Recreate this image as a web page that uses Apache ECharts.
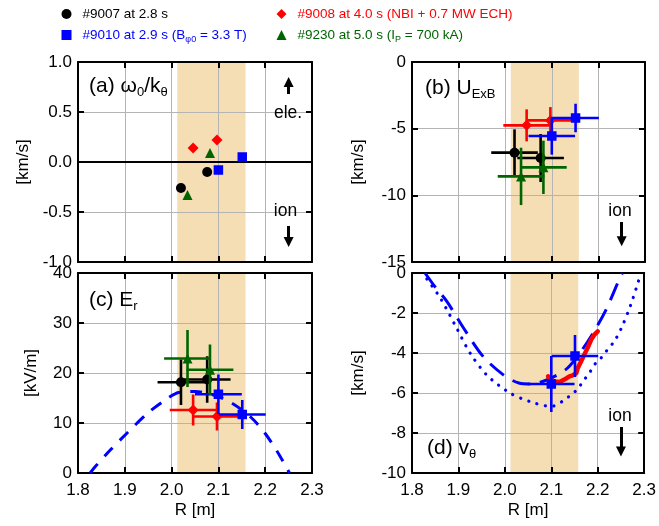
<!DOCTYPE html>
<html><head><meta charset="utf-8">
<script src="https://cdn.jsdelivr.net/npm/echarts@6/dist/echarts.min.js"></script>
<style>html,body{margin:0;padding:0;background:#fff}#c{width:659px;height:526px}</style>
</head><body><div id="c"></div>
<script>
// ---------- DATA ----------
const seriesNames = ['#9007 at 2.8 s', '#9010 at 2.9 s (Bφ0 = 3.3 T)', '#9008 at 4.0 s (NBI + 0.7 MW ECH)', '#9230 at 5.0 s (IP = 700 kA)'];
const rTicks = [1.8, 2.3, 0.1];
const shadeR = [2.012, 2.158];

// measurement radii [m] and radial error
const rBlack = [2.020, 2.076];
const rRed   = [2.046, 2.097];
const rBlue  = [2.100, 2.151];
const rGreen = [2.034, 2.082];
const rErr = 0.05;

// (a) omega0/k_theta [km/s]
const wBlack = [-0.26, -0.10];
const wRed   = [0.14, 0.22];
const wBlue  = [-0.08, 0.05];
const wGreen = [-0.33, 0.09];

// (b) U_ExB [km/s]
const uBlack = [-6.8, -7.2];   const uBlackErr = [1.75, 1.8];
const uRed   = [-4.75, -4.38]; const uRedErr   = [1.2, 1.0];
const uBlue  = [-5.55, -4.2];  const uBlueErr  = [1.4, 1.07];
const uGreen = [-8.58, -7.9];  const uGreenErr = [2.15, 2.0];

// (c) E_r [kV/m]
const eBlack = [18.15, 18.7];  const eBlackErr = [4.55, 4.65];
const eRed   = [12.6, 11.3];   const eRedErr   = [3.1, 2.8];
const eBlue  = [15.75, 11.7];  const eBlueErr  = [3.95, 2.9];
const eGreen = [22.9, 20.65];  const eGreenErr = [5.7, 5.05];
const erCurveR = [1.826, 1.837, 1.869, 1.905, 1.948, 1.991, 2.015, 2.05, 2.09, 2.13, 2.17, 2.20, 2.225, 2.24, 2.252];
const erCurveV = [0, 1.3, 4.6, 8.0, 11.9, 14.9, 16.1, 16.3, 15.6, 13.9, 11.1, 7.9, 4.4, 2.0, 0];

// (d) v_theta [km/s]
const vBlue = [-5.55, -4.15];  const vBlueErr = [1.4, 1.05];
const vDashR = [1.828, 1.85, 1.875, 1.911, 1.953, 1.996, 2.03, 2.06, 2.09, 2.114, 2.135, 2.16, 2.19, 2.218, 2.246, 2.253];
const vDashV = [0, -0.7, -1.42, -2.75, -4.17, -5.08, -5.5, -5.55, -5.35, -5.08, -4.75, -4.05, -3.0, -1.83, -0.33, 0];
const vDotR = [1.832, 1.861, 1.896, 1.925, 1.961, 2.011, 2.053, 2.10, 2.125, 2.143, 2.157, 2.168, 2.182, 2.193, 2.207, 2.218, 2.236, 2.25, 2.271, 2.293];
const vDotV = [-0.3, -1.25, -2.75, -4.0, -5.1, -6.0, -6.42, -6.67, -6.4, -6.08, -5.8, -5.42, -5.0, -4.58, -4.25, -3.92, -3.4, -2.8, -1.6, 0];
const vRedR = [2.093, 2.096, 2.107, 2.118, 2.128, 2.139, 2.146, 2.154, 2.157, 2.164, 2.171, 2.178, 2.186, 2.193, 2.20];
const vRedV = [-5.17, -5.33, -5.42, -5.45, -5.33, -5.17, -5.12, -5.0, -4.75, -4.42, -4.08, -3.75, -3.33, -3.08, -2.92];

// annotation arrows: [panel, R, start, end]
const arrows = [[0, 2.25, 0.68, 0.80], [0, 2.25, -0.64, -0.80], [1, 2.25, -12.0, -13.45], [3, 2.25, -7.7, -8.92]];

// ---------- STYLE ----------
const FONT = 'Liberation Sans';
const C = {black:'#000000', red:'#ff0000', blue:'#0000ff', green:'#006400'};
const SYM = {black:['circle',10], red:['diamond',11], blue:['rect',9.5], green:['triangle',10]};

const grids = [
  {left:78, top:62, width:234, height:200},
  {left:412, top:62, width:233, height:200},
  {left:78, top:273, width:234, height:200},
  {left:412, top:273, width:233, height:200}
];
const yDefs = [
  {min:-1, max:1, interval:0.5, fmt:v=>v.toFixed(1), name:'[km/s]', gap:46},
  {min:-15, max:0, interval:5, fmt:v=>String(v), name:'[km/s]', gap:45},
  {min:0, max:40, interval:10, fmt:v=>String(v), name:'[kV/m]', gap:38},
  {min:-10, max:0, interval:2, fmt:v=>String(v), name:'[km/s]', gap:45}
];

const xAxes = [], yAxes = [];
grids.forEach((g, i) => {
  ['bottom','top'].forEach(pos => {
    const showLab = pos === 'bottom' && i >= 2;
    xAxes.push({type:'value', gridIndex:i, position:pos, min:rTicks[0], max:rTicks[1], interval:rTicks[2], z:1,
      axisLine:{show:true, onZero:false, lineStyle:{color:'#000', width:2}},
      axisTick:{show:true, inside:true, length:6, lineStyle:{color:'#000', width:2}},
      axisLabel:{show:showLab, margin:9, fontFamily:FONT, fontSize:17, color:'#000', formatter:v=>v.toFixed(1)},
      splitLine:{show:pos==='bottom', lineStyle:{color:'#b4b4b4', width:1}},
      name: showLab ? 'R [m]' : '', nameLocation:'middle', nameGap:29,
      nameTextStyle:{fontFamily:FONT, fontSize:17, color:'#000'}
    });
  });
  ['left','right'].forEach(pos => {
    const d = yDefs[i];
    yAxes.push({type:'value', gridIndex:i, position:pos, min:d.min, max:d.max, interval:d.interval, z:1,
      axisLine:{show:true, onZero:false, lineStyle:{color:'#000', width:2}},
      axisTick:{show:true, inside:true, length:6, lineStyle:{color:'#000', width:2}},
      axisLabel:{show:pos==='left', margin:6, fontFamily:FONT, fontSize:17, color:'#000', formatter:d.fmt},
      splitLine:{show:pos==='left', lineStyle:{color:'#b4b4b4', width:1}},
      name: pos==='left' ? d.name : '', nameLocation:'middle', nameGap:d.gap,
      nameTextStyle:{fontFamily:FONT, fontSize:17, color:'#000'}
    });
  });
});

function errSeries(panel, xs, ys, yerr, color, z) {
  return {type:'custom', coordinateSystem:'cartesian2d', xAxisIndex:panel*2, yAxisIndex:panel*2, z:z, silent:true,
    data: xs.map((x, k) => [x, ys[k], rErr, yerr[k]]),
    renderItem: function (params, api) {
      const x = api.value(0), y = api.value(1), dx = api.value(2), dy = api.value(3);
      const a = api.coord([x - dx, y]), b = api.coord([x + dx, y]);
      const c = api.coord([x, y - dy]), d = api.coord([x, y + dy]);
      const st = {stroke: color, lineWidth: 2.6};
      return {type:'group', children:[
        {type:'line', shape:{x1:a[0], y1:a[1], x2:b[0], y2:b[1]}, style:st},
        {type:'line', shape:{x1:c[0], y1:c[1], x2:d[0], y2:d[1]}, style:st}
      ]};
    }
  };
}
function scat(panel, name, xs, ys, key, z) {
  return {type:'scatter', name:name, xAxisIndex:panel*2, yAxisIndex:panel*2, z:z, silent:true,
    symbol:SYM[key][0], symbolSize:SYM[key][1], itemStyle:{color:C[key], opacity:1},
    data: xs.map((x, k) => [x, ys[k]])};
}
function shade(panel) {
  return {type:'line', xAxisIndex:panel*2, yAxisIndex:panel*2, data:[], silent:true,
    markArea:{silent:true, z:0, itemStyle:{color:'#f5deb3'}, data:[[{xAxis:shadeR[0]}, {xAxis:shadeR[1]}]]}};
}
function arrow(a) {
  const panel = a[0];
  return {type:'line', xAxisIndex:panel*2, yAxisIndex:panel*2, data:[], silent:true, z:5,
    markLine:{silent:true, symbol:['none','triangle'], symbolSize:10, animation:false,
      label:{show:false}, lineStyle:{color:'#000', width:3, type:'solid'},
      data:[[{coord:[a[1], a[2]]}, {coord:[a[1], a[3]]}]]}};
}
function curve(panel, xs, ys, color, width, dash, z, smooth) {
  return {type:'line', xAxisIndex:panel*2, yAxisIndex:panel*2, z:z, silent:true, showSymbol:false, symbol:'none',
    smooth:smooth, clip:true,
    lineStyle:{color:color, width:width, type:dash, cap: dash === 'solid' ? 'round' : (Array.isArray(dash) && dash[0] < 1 ? 'round' : 'butt'), join:'round'},
    data: xs.map((x, k) => [x, ys[k]])};
}

const series = [];
[0,1,2,3].forEach(p => series.push(shade(p)));
// zero line in (a)
series.push({type:'line', xAxisIndex:0, yAxisIndex:0, data:[], silent:true, z:2,
  markLine:{silent:true, symbol:['none','none'], label:{show:false}, animation:false,
    lineStyle:{color:'#000', width:2, type:'solid'}, data:[{yAxis:0}]}});

// (a)
series.push(scat(0, seriesNames[0], rBlack, wBlack, 'black', 4));
series.push(scat(0, seriesNames[2], rRed, wRed, 'red', 6));
series.push(scat(0, seriesNames[1], rBlue, wBlue, 'blue', 8));
series.push(scat(0, seriesNames[3], rGreen, wGreen, 'green', 10));
// (b)
series.push(errSeries(1, rBlack, uBlack, uBlackErr, C.black, 3));
series.push(scat(1, 'b0', rBlack, uBlack, 'black', 4));
series.push(errSeries(1, rRed, uRed, uRedErr, C.red, 5));
series.push(scat(1, 'b2', rRed, uRed, 'red', 6));
series.push(errSeries(1, rBlue, uBlue, uBlueErr, C.blue, 7));
series.push(scat(1, 'b1', rBlue, uBlue, 'blue', 8));
series.push(errSeries(1, rGreen, uGreen, uGreenErr, C.green, 9));
series.push(scat(1, 'b3', rGreen, uGreen, 'green', 10));
// (c)
series.push(curve(2, erCurveR, erCurveV, C.blue, 3, [12, 10], 2, 0.3));
series.push(errSeries(2, rBlack, eBlack, eBlackErr, C.black, 3));
series.push(scat(2, 'c0', rBlack, eBlack, 'black', 4));
series.push(errSeries(2, rRed, eRed, eRedErr, C.red, 5));
series.push(scat(2, 'c2', rRed, eRed, 'red', 6));
series.push(errSeries(2, rBlue, eBlue, eBlueErr, C.blue, 7));
series.push(scat(2, 'c1', rBlue, eBlue, 'blue', 8));
series.push(errSeries(2, rGreen, eGreen, eGreenErr, C.green, 9));
series.push(scat(2, 'c3', rGreen, eGreen, 'green', 10));
// (d)
series.push(curve(3, vDashR, vDashV, C.blue, 3, [18, 10], 2, 0.3));
series.push(curve(3, vDotR, vDotV, C.blue, 3.2, [0.1, 8.5], 2, 0.3));
series.push(curve(3, vRedR, vRedV, C.red, 4.5, 'solid', 3, false));
series.push(errSeries(3, rBlue, vBlue, vBlueErr, C.blue, 7));
series.push(scat(3, 'd1', rBlue, vBlue, 'blue', 8));
// arrows
arrows.forEach(a => series.push(arrow(a)));

// legends
const subRich = col => ({s:{fontFamily:FONT, fontSize:9, color:col, verticalAlign:'bottom', lineHeight:11}});
function leg(name, icon, left, top, col, fmt) {
  return {left:left, top:top, padding:0, selectedMode:false, itemWidth:10, itemHeight:10, icon:icon,
    data:[name], formatter: fmt || (n => n),
    textStyle:{fontFamily:FONT, fontSize:13.5, color:col, lineHeight:18, padding:[0,0,0,6], rich:subRich(col)}};
}
const legends = [
  leg(seriesNames[0], 'circle', 61.5, 5, C.black),
  leg(seriesNames[1], 'rect', 61.5, 26, C.blue, () => '#9010 at 2.9 s (B{s|φ0} = 3.3 T)'),
  leg(seriesNames[2], 'diamond', 276.5, 5, C.red),
  leg(seriesNames[3], 'triangle', 276.5, 26, C.green, () => '#9230 at 5.0 s (I{s|P} = 700 kA)')
];

// panel labels and annotations
const panelRich = {
  s: {fontFamily:FONT, fontSize:13, fill:'#000', verticalAlign:'bottom', lineHeight:14},
  n: {fontFamily:FONT, fontSize:21, fill:'#000', lineHeight:26}
};
function plabel(txt, x, y) {
  return {type:'text', x:x, y:y, z:20, silent:true,
    style:{text:txt, fontFamily:FONT, fontSize:21, fill:'#000', lineHeight:26, verticalAlign:'middle', align:'left', rich:panelRich}};
}
function note(txt, x, y) {
  return {type:'text', x:x, y:y, z:20, silent:true,
    style:{text:txt, fontFamily:FONT, fontSize:17.5, fill:'#000', verticalAlign:'middle', align:'center'}};
}
const graphics = [
  plabel('(a) ω{s|0}/k{s|θ}', 89, 86),
  plabel('(b) U{s|ExB}', 425, 88),
  plabel('(c) E{s|r}', 89, 300),
  plabel('(d) v{s|θ}', 427, 448),
  note('ele.', 288, 113),
  note('ion', 285.5, 211),
  note('ion', 620, 211),
  note('ion', 620, 416)
];

const chart = echarts.init(document.getElementById('c'), null, {renderer:'canvas'});
chart.setOption({
  animation:false,
  backgroundColor:'#ffffff',
  textStyle:{fontFamily:FONT},
  grid:grids, xAxis:xAxes, yAxis:yAxes,
  legend:legends, series:series, graphic:graphics
});
</script></body></html>
